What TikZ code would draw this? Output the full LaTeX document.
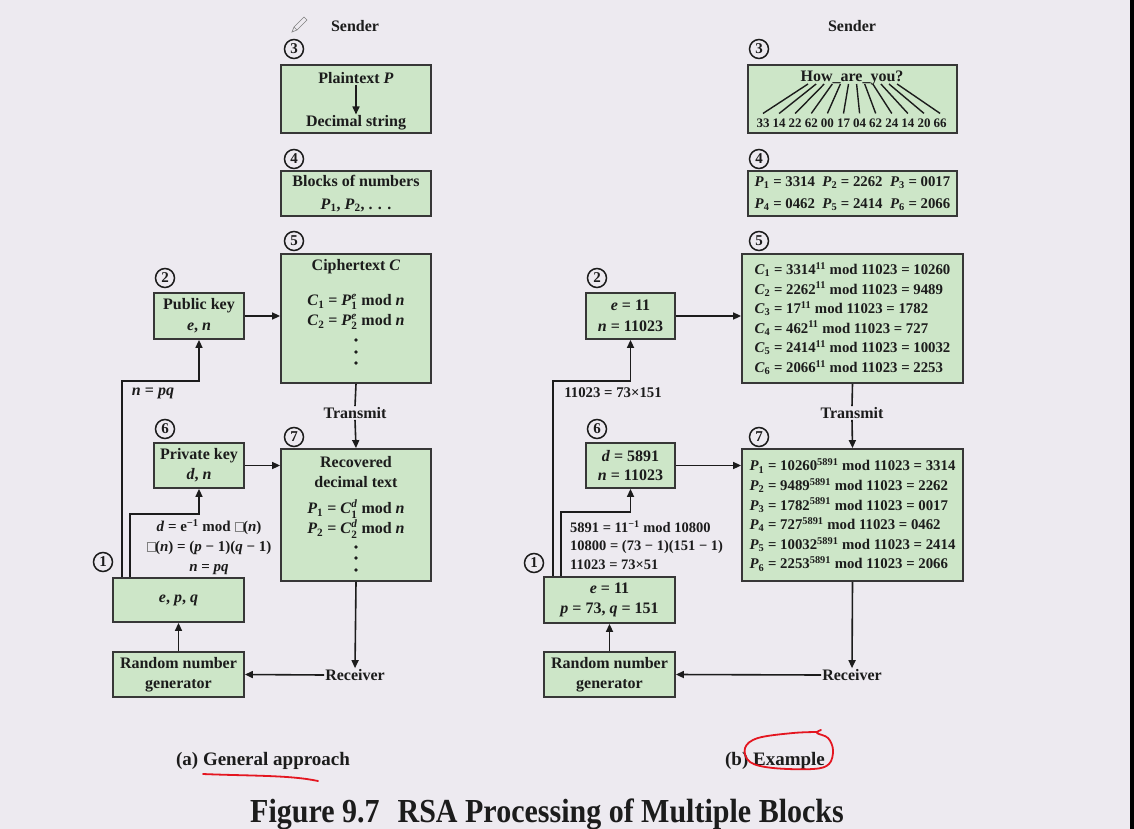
\documentclass[tikz,border=0pt]{standalone}
\usepackage{amsmath}
\usepackage{fontspec}
\setmainfont{Liberation Serif}
\usetikzlibrary{arrows.meta}

\definecolor{paper}{RGB}{237,234,240}
\definecolor{boxfill}{RGB}{205,230,200}
\definecolor{boxline}{RGB}{55,55,55}
\definecolor{ink}{RGB}{28,28,28}
\definecolor{pen}{RGB}{228,22,32}

\newcommand\vr[1]{\textit{#1}}
\newcommand\ix[2]{\textit{#1}\textsubscript{#2}}
\newcommand\ps[3]{$\text{\textit{#1}}_{\text{#2}}^{\text{\textit{#3}}}$}
\newcommand\nophi{{\color{gray}\setlength\fboxsep{0pt}\setlength\fboxrule{0.5pt}\fbox{\rule{0pt}{0.62em}\hspace{0.5em}}}}

\tikzset{
  box/.style={draw=boxline, fill=boxfill, line width=1.8pt, inner sep=0pt},
  txt/.style={font=\fontsize{16}{21}\selectfont\bfseries, text=ink, inner sep=1pt, align=center},
  sml/.style={font=\fontsize{14.8}{19.6}\selectfont\bfseries, text=ink, inner sep=1pt, align=left},
  num/.style={circle, draw=ink, line width=1.5pt, inner sep=0pt, minimum size=19pt,
    font=\fontsize{15}{15}\selectfont\bfseries, text=ink},
  flow/.style={draw=ink, line width=1.6pt, -{Triangle[length=8pt,width=7pt]}},
  wire/.style={draw=ink, line width=1.6pt},
  redpen/.style={draw=pen, line width=1.8pt, line cap=round, line join=round}
}

\begin{document}
\begin{tikzpicture}[x=1pt,y=-1pt]
 \useasboundingbox (0,0) rectangle (1134,829);
 \fill[paper] (0,0) rectangle (1134,829);
 \fill[black] (1130,0) rectangle (1134,829);
 % pencil cursor
 \draw[gray, line width=0.6pt] (292,32) -- (294,27) -- (304,17) -- (307,20) -- (297,30) -- cycle;
 \draw[gray, line width=0.6pt] (294,27) -- (297,30);

 % (a) general approach
 \node[txt] (sdA) at (355,26) {Sender};
 \node[num] at (294,49) {3};
 \node[box, minimum width=150pt, minimum height=68pt] (plainA) at (356,99) {};
 \node[txt] (ptA) at (356,78) {Plaintext \vr{P}};
 \node[txt] (dsA) at (356,123) {Decimal string};
 \draw[flow] (ptA) -- (dsA);
 \node[num] at (294,159) {4};
 \node[box, txt, font=\fontsize{16}{23}\selectfont\bfseries, minimum width=150pt, minimum height=45pt] (blocksA) at (356,193.5)
   {Blocks of numbers\\\ix{P}{1}, \ix{P}{2}, . . .};
 \node[num] at (294,241) {5};
 \node[box, minimum width=150pt, minimum height=129pt] (cipherA) at (356,318.5) {};
 \node[txt] (ctA) at (356,267) {Ciphertext \vr{C}};
 \node[txt, inner sep=0pt] (c1A) at (356,302) {\ix{C}{1} = \ps{P}{1}{e} mod \vr{n}};
 \node[txt, inner sep=0pt] (c2A) at (356,322) {\ix{C}{2} = \ps{P}{2}{e} mod \vr{n}};
 \foreach \y in {340,352,363} \fill[ink] (356,\y) circle (1.8pt);
 \node[num] at (165,278) {2};
 \node[box, txt, minimum width=90pt, minimum height=46pt] (pubA) at (199,316) {Public key\\\vr{e}, \vr{n}};
 \draw[flow] (pubA.east) -- (pubA.east -| cipherA.west);
 \node[txt] (trA) at (355,413) {Transmit};
 \draw[wire] (cipherA.south) -- (trA.north);
 \node[num] at (165,429) {6};
 \node[num] at (294,437) {7};
 \node[box, txt, font=\fontsize{16}{20}\selectfont\bfseries, minimum width=90pt, minimum height=45pt] (privA) at (199,465.5) {Private key\\\vr{d}, \vr{n}};
 \node[box, minimum width=150pt, minimum height=132pt] (recA) at (356,515) {};
 \draw[flow] (trA.south) -- (recA.north);
 \node[txt, font=\fontsize{16}{20}\selectfont\bfseries] (rtA) at (356,472) {Recovered\\decimal text};
 \node[txt, inner sep=0pt] (p1A) at (356,509) {\ix{P}{1} = \ps{C}{1}{d} mod \vr{n}};
 \node[txt, inner sep=0pt] (p2A) at (356,529) {\ix{P}{2} = \ps{C}{2}{d} mod \vr{n}};
 \foreach \y in {547,558,570} \fill[ink] (356,\y) circle (1.8pt);
 \draw[flow] (privA.east) -- (privA.east -| recA.west);
 \node[txt, font=\fontsize{15}{20}\selectfont\bfseries] (keyA) at (209,547)
   {\vr{d} = e\textsuperscript{−1} mod \nophi(\vr{n})\\\nophi(\vr{n}) = (\vr{p} − 1)(\vr{q} − 1)\\\vr{n} = \vr{pq}};
 \node[txt] (npqA) at (153,393) {\vr{n} = \vr{pq}};
 \node[num] at (103,562) {1};
 \node[box, txt, minimum width=131pt, minimum height=44pt] (epqA) at (178.5,600) {\vr{e}, \vr{p}, \vr{q}};
 \node[box, txt, font=\fontsize{16}{20}\selectfont\bfseries, minimum width=131pt, minimum height=45pt] (rngA) at (178.5,674.5) {Random number\\generator};
 \node[txt] (rcA) at (355,675) {Receiver};
 \coordinate (kA) at (122,381);
 \coordinate (jA) at (130,514);
 \draw[flow] (epqA.north -| kA) -- (kA) -| (pubA.south);
 \draw[flow] (epqA.north -| jA) -- (jA) -| (privA.south);
 \draw[flow] (rngA.north) -- (epqA.south);
 \draw[flow] (recA.south) -- (rcA.north);
 \draw[flow] (rcA.west) -- (rngA.east);

 % (b) example
 \node[txt] (sdB) at (852,26) {Sender};
 \node[num] at (759,49) {3};
 \node[box, minimum width=209pt, minimum height=68pt] (howB) at (852.5,99) {};
 \node[txt] (hwB) at (852,78) {How\_are\_you?};
 \foreach \d [count=\i] in {33,14,22,62,00,17,04,62,24,14,20,66} {
   \node[font=\fontsize{13}{14}\selectfont\bfseries, text=ink, inner sep=0pt] (d\i) at ({763+16.1*(\i-1)},123) {\d};
   \coordinate (t\i) at ({808+8.1*(\i-1)},84);
   \draw[ink, line width=1.4pt] ([yshift=5pt]d\i.north) -- (t\i);
 }
 \node[num] at (759,159) {4};
 \node[box, sml, font=\fontsize{14.8}{22}\selectfont\bfseries, minimum width=209pt, minimum height=45pt] (pB) at (852.5,193.5)
   {\ix{P}{1} = 3314\hspace{0.5em}\ix{P}{2} = 2262\hspace{0.5em}\ix{P}{3} = 0017\\
    \ix{P}{4} = 0462\hspace{0.5em}\ix{P}{5} = 2414\hspace{0.5em}\ix{P}{6} = 2066};
 \node[num] at (759,241) {5};
 \node[box, sml, minimum width=221pt, minimum height=129pt] (cB) at (852.5,318.5)
   {\ix{C}{1} = 3314\textsuperscript{11} mod 11023 = 10260\\
    \ix{C}{2} = 2262\textsuperscript{11} mod 11023 = 9489\\
    \ix{C}{3} = 17\textsuperscript{11} mod 11023 = 1782\\
    \ix{C}{4} = 462\textsuperscript{11} mod 11023 = 727\\
    \ix{C}{5} = 2414\textsuperscript{11} mod 11023 = 10032\\
    \ix{C}{6} = 2066\textsuperscript{11} mod 11023 = 2253};
 \node[num] at (597,278) {2};
 \node[box, txt, minimum width=89pt, minimum height=46pt] (eB) at (630.5,316) {\vr{e} = 11\\\vr{n} = 11023};
 \draw[flow] (eB.east) -- (eB.east -| cB.west);
 \node[txt] (trB) at (852,413) {Transmit};
 \draw[wire] (cB.south) -- (trB.north);
 \node[num] at (597,429) {6};
 \node[num] at (759,437) {7};
 \node[box, txt, font=\fontsize{16}{19}\selectfont\bfseries, minimum width=89pt, minimum height=45pt] (dB) at (630.5,465.5) {\vr{d} = 5891\\\vr{n} = 11023};
 \node[box, sml, minimum width=221pt, minimum height=132pt] (rB) at (852.5,515)
   {\ix{P}{1} = 10260\textsuperscript{5891} mod 11023 = 3314\\
    \ix{P}{2} = 9489\textsuperscript{5891} mod 11023 = 2262\\
    \ix{P}{3} = 1782\textsuperscript{5891} mod 11023 = 0017\\
    \ix{P}{4} = 727\textsuperscript{5891} mod 11023 = 0462\\
    \ix{P}{5} = 10032\textsuperscript{5891} mod 11023 = 2414\\
    \ix{P}{6} = 2253\textsuperscript{5891} mod 11023 = 2066};
 \draw[flow] (trB.south) -- (rB.north);
 \draw[flow] (dB.east) -- (dB.east -| rB.west);
 \node[sml, font=\fontsize{14.5}{18.2}\selectfont\bfseries, anchor=west] (keyB) at (569,545)
   {5891 = 11\textsuperscript{−1} mod 10800\\10800 = (73 − 1)(151 − 1)\\11023 = 73×51};
 \node[sml] (nB) at (613,393) {11023 = 73×151};
 \node[num] at (534,563) {1};
 \node[box, txt, font=\fontsize{16}{20}\selectfont\bfseries, minimum width=131pt, minimum height=46pt] (epqB) at (609.5,600) {\vr{e} = 11\\\vr{p} = 73, \vr{q} = 151};
 \node[box, txt, font=\fontsize{16}{20}\selectfont\bfseries, minimum width=131pt, minimum height=45pt] (rngB) at (609.5,674.5) {Random number\\generator};
 \node[txt] (rcB) at (852,675) {Receiver};
 \coordinate (kB) at (553,381);
 \coordinate (jB) at (561,512);
 \draw[flow] (epqB.north -| kB) -- (kB) -| (eB.south);
 \draw[flow] (epqB.north -| jB) -- (jB) -| (dB.south);
 \draw[flow] (rngB.north) -- (epqB.south);
 \draw[flow] (rB.south) -- (rcB.north);
 \draw[flow] (rcB.west) -- (rngB.east);

 % captions
 \node[txt, font=\fontsize{19}{22}\selectfont\bfseries] (capA) at (263,761) {(a) General approach};
 \node[txt, font=\fontsize{19}{22}\selectfont\bfseries] (capB) at (775,761) {(b) Example};
 \node[txt, font=\fontsize{30}{34}\selectfont\bfseries, yscale=1.12] (title) at (547,814) {Figure 9.7\hspace{0.6em}RSA Processing of Multiple Blocks};
 \draw[redpen] (203,774) .. controls (250,776) and (290,775) .. (318,781);
 \draw[redpen] plot[smooth, tension=0.6] coordinates {(818,732) (793,733) (758,738) (745,748) (750,762) (773,768) (813,769) (829,764) (833,750) (828,738) (817,733) (821,730)};
\end{tikzpicture}
\end{document}
